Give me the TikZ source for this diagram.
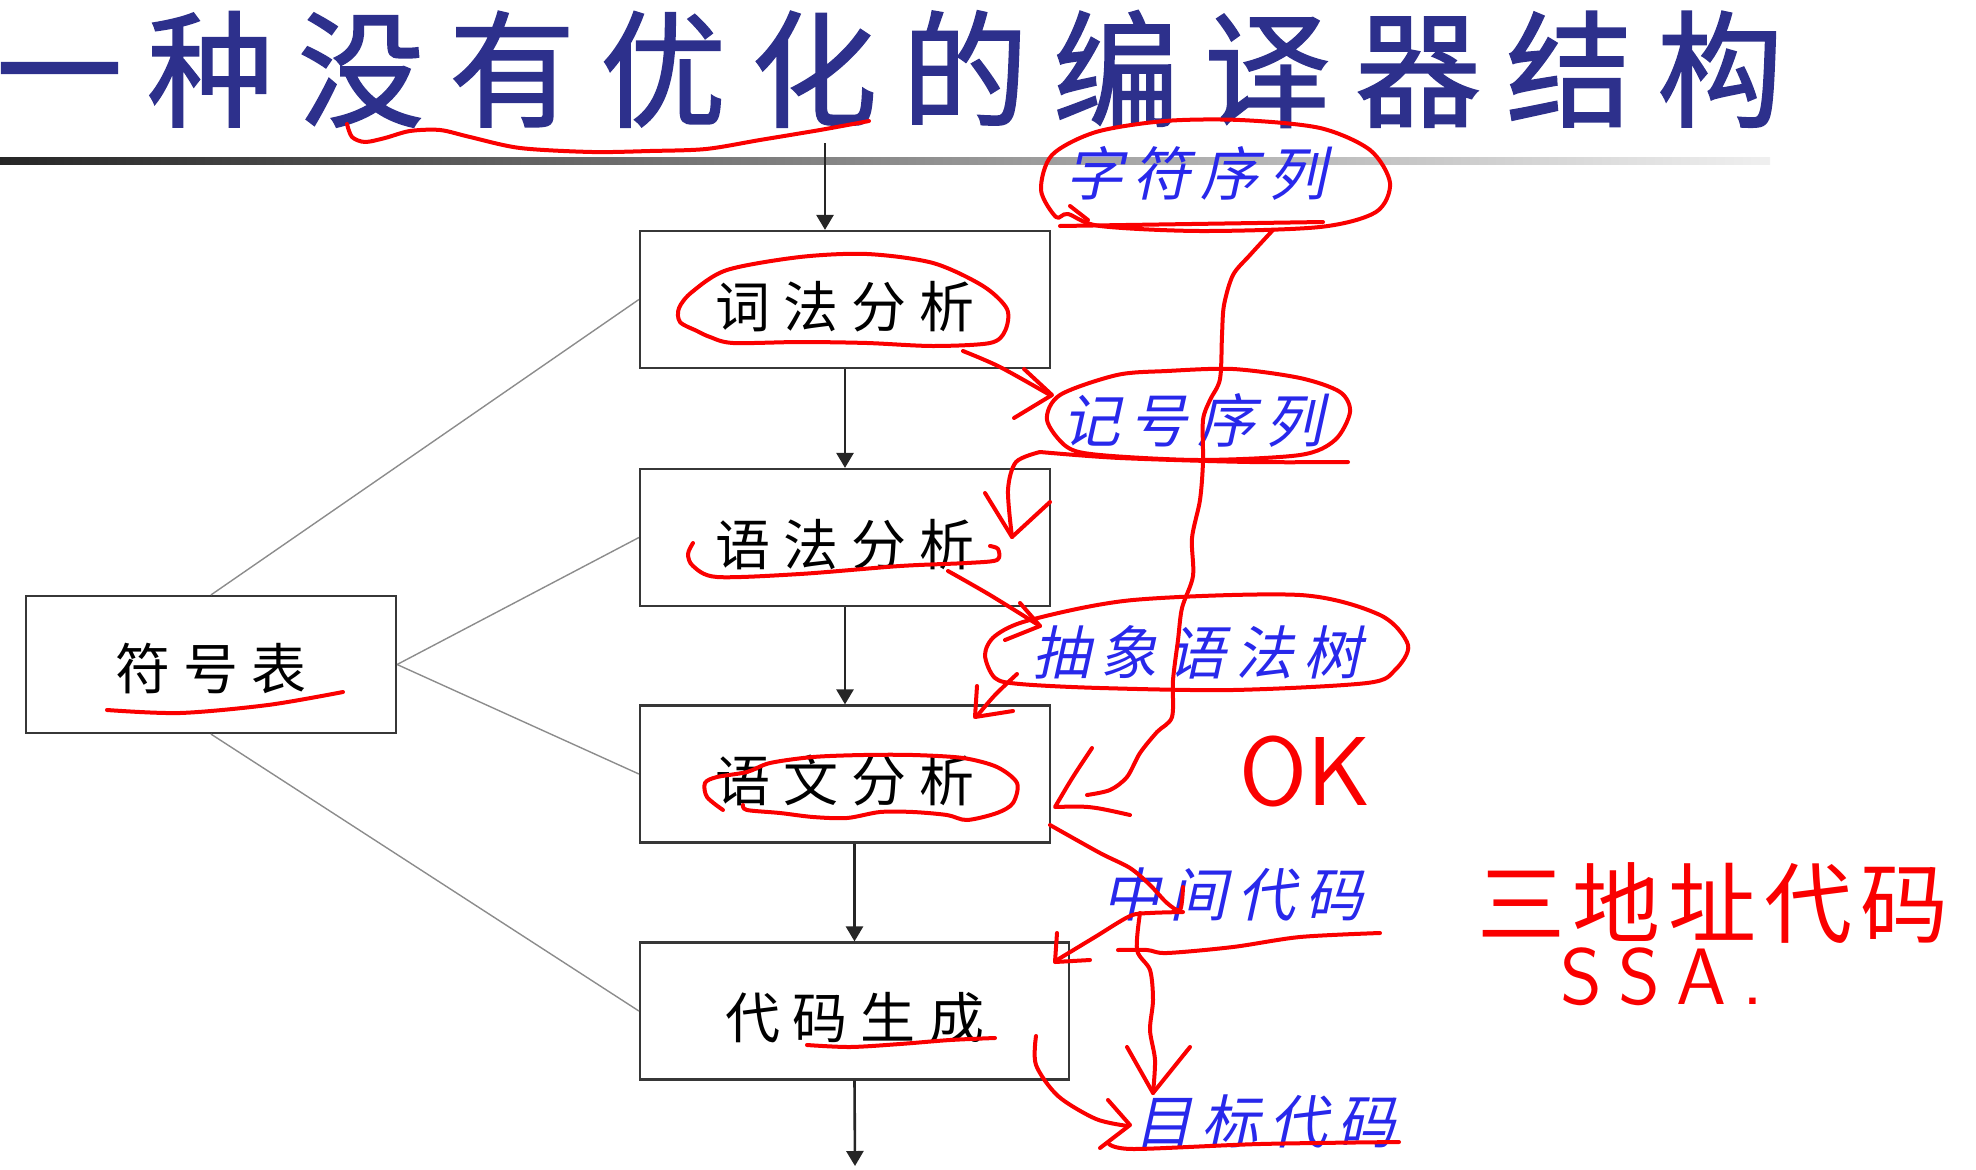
\documentclass[tikz,border=0pt]{standalone}
\usepackage{fontspec}
\usetikzlibrary{arrows.meta}
\newfontfamily\cjk{Noto Sans CJK SC}
\newfontfamily\cjkheavy{Noto Sans CJK SC}[FakeBold=1.4]
\newfontfamily\cjkit{Noto Sans CJK SC}[FakeSlant=0.22]
\definecolor{titleblue}{RGB}{45,48,140}
\definecolor{labelblue}{RGB}{40,40,235}
\definecolor{pencolor}{RGB}{250,0,0}
\definecolor{boxline}{RGB}{55,55,55}

% put a fixed kern between the characters of a word
\ExplSyntaxOn
\NewDocumentCommand\spaced{mm}{\tl_map_inline:nn{#2}{##1\kern#1}\unkern}
\ExplSyntaxOff

\begin{document}
\begin{tikzpicture}[x=1pt,y=-1pt,
  stage/.style={draw=boxline,line width=2.2pt,minimum width=410pt,minimum height=137pt,
    inner sep=0pt,font=\cjk\fontsize{55}{55}\selectfont,text height=55pt,text depth=0pt},
  flow/.style={inner sep=0pt,text=labelblue,font=\cjkit\fontsize{58}{58}\selectfont},
  arr/.style={draw=black!85,line width=2.6pt,-{Triangle[length=15pt,width=17pt]}},
  link/.style={draw=black!45,line width=1.4pt},
  pen/.style={draw=pencolor,line width=4pt,line cap=round,line join=round},
  hand/.style={inner sep=0pt,text=pencolor}]

\useasboundingbox (0,0) rectangle (1976,1170);

% title and rule
\node[anchor=west,inner sep=0pt,text=titleblue,font=\cjkheavy\fontsize{126}{126}\selectfont]
  (title) at (-4,69) {\spaced{25pt}{一种没有优化的编译器结构}};
\shade[left color=black!85,right color=black!6] (0,157) rectangle (1770,164);

% compiler stages
\node[stage] (b1) at (845,299.5) {\spaced{13pt}{词法分析}};
\node[stage] (b2) at (845,537.5) {\spaced{13pt}{语法分析}};
\node[stage] (b3) at (845,774) {\spaced{13pt}{语文分析}};
\node[stage,minimum width=429pt] (b4) at (854.5,1011) {\spaced{13pt}{代码生成}};
\node[stage,minimum width=370pt,text height=50pt] (sym) at (211,664.5) {\spaced{13pt}{符号表}};

\coordinate (in) at (825,143);
\coordinate (out) at (855,1166);
\draw[arr] (in) -- (in |- b1.north);
\draw[arr] (b1.south) -- (b2.north);
\draw[arr] (b2.south) -- (b3.north);
\draw[arr] (b3.south -| b4.north) -- (b4.north);
\draw[arr] (b4.south) -- (out);

\draw[link] (sym.north) -- (b1.west);
\draw[link] (sym.east) -- (b2.west);
\draw[link] (sym.east) -- (b3.west);
\draw[link] (sym.south) -- (b4.west);

% intermediate representations
\node[flow] (f1) at (1196,173) {\spaced{10pt}{字符序列}};
\node[flow] (f2) at (1193,420) {\spaced{10pt}{记号序列}};
\node[flow] (f3) at (1197,652) {\spaced{10pt}{抽象语法树}};
\node[flow] (f4) at (1233,895) {\spaced{10pt}{中间代码}};
\node[flow] (f5) at (1265,1122) {\spaced{10pt}{目标代码}};

% pen notes
\node[hand,font=\sffamily\fontsize{98}{98}\selectfont] (ok) at (1305,771) {OK};
\node[hand,font=\cjk\fontsize{88}{88}\selectfont] (tac) at (1713,903) {\spaced{8pt}{三地址代码}};
\node[hand,font=\sffamily\fontsize{80}{80}\selectfont] (ssa) at (1662,977) {\spaced{16pt}{SSA.}};

% title underline
\draw[pen] plot[smooth] coordinates {(347,124) (352,137) (365,142) (385,138) (410,131) (440,130)
  (470,137) (520,148) (592,152) (650,151) (706,149) (760,140) (820,130) (869,121)};

% loop around the character stream and its long arrow to the semantic stage
\draw[pen] plot[smooth cycle] coordinates {(1056,217) (1041,190) (1052,155) (1096,132) (1165,121)
  (1240,120) (1320,128) (1370,150) (1390,183) (1376,212) (1320,227) (1200,231) (1100,226) (1068,214)};
\draw[pen] (1060,226) -- (1323,222);
\draw[pen] (1070,206) -- (1088,220);
\draw[pen] plot[smooth] coordinates {(1273,230) (1250,255) (1233,275) (1224,305) (1222,335)
  (1220,379) (1210,400) (1203,420) (1203,462) (1200,500) (1192,538) (1193,576) (1182,608)
  (1178,640) (1173,680) (1172,717) (1157,732) (1140,753) (1127,777) (1110,790) (1087,795)};
\draw[pen] (1092,748) .. controls (1072,778) .. (1055,807) .. controls (1090,806) .. (1130,815);

% lexical stage
\draw[pen] plot[smooth cycle] coordinates {(697,331) (680,322) (679,308) (692,292) (727,270)
  (800,257) (867,254) (933,263) (983,286) (1007,309) (1005,331) (990,343) (933,346) (867,343)
  (800,342) (733,343) (710,337)};
\draw[pen] plot[smooth] coordinates {(963,351) (1000,367) (1050,395)};
\draw[pen] (1024,369) -- (1052,395) -- (1014,418);

% token stream
\draw[pen] plot[smooth cycle] coordinates {(1067,447) (1047,420) (1060,395) (1117,375) (1167,371)
  (1233,369) (1300,378) (1340,392) (1350,412) (1335,440) (1300,455) (1200,460) (1100,455)};
\draw[pen] plot[smooth] coordinates {(1040,452) (1120,458) (1250,462) (1348,462)};
\draw[pen] plot[smooth] coordinates {(1040,452) (1016,462) (1008,490) (1012,537)};
\draw[pen] (985,493) -- (1012,537) -- (1050,502);

% syntax stage
\draw[pen] plot[smooth] coordinates {(693,543) (688,554) (693,566) (717,577) (800,574) (900,566)
  (967,563) (997,560) (998,549) (990,546)};
\draw[pen] plot[smooth] coordinates {(948,571) (990,595) (1040,626)};
\draw[pen] (1020,603) -- (1040,626) -- (1005,640);

% abstract syntax tree
\draw[pen] plot[smooth cycle] coordinates {(995,678) (985,655) (995,636) (1030,620) (1133,600)
  (1300,595) (1380,615) (1408,645) (1395,670) (1367,683) (1233,690) (1100,688) (1020,684)};
\draw[pen] plot[smooth] coordinates {(1017,674) (995,695) (977,716)};
\draw[pen] (977,686) -- (975,717) -- (1013,711);

% semantic stage
\draw[pen] plot[smooth] coordinates {(723,810) (707,797) (705,783) (717,777) (747,772) (770,763)
  (813,757) (863,755) (913,755) (963,758) (997,767) (1017,783) (1013,803) (997,813) (967,820)
  (947,815) (913,812) (880,812) (847,818) (813,817) (780,813) (747,810) (743,805)};

% intermediate code
\draw[pen] plot[smooth] coordinates {(1050,825) (1100,853) (1130,868) (1150,885) (1167,903)
  (1180,910) (1183,887)};
\draw[pen] plot[smooth] coordinates {(1183,912) (1150,913) (1130,916) (1095,937) (1057,960)};
\draw[pen] (1057,933) -- (1055,962) -- (1090,960);
\draw[pen] plot[smooth] coordinates {(1140,913) (1137,950) (1150,970) (1153,1000) (1150,1030)
  (1155,1060) (1153,1093)};
\draw[pen] (1127,1047) -- (1153,1093) -- (1190,1047);
\draw[pen] plot[smooth] coordinates {(1118,950) (1147,950) (1167,953) (1233,947) (1300,937) (1380,933)};

% code generation and target code
\draw[pen] plot[smooth] coordinates {(807,1045) (850,1047) (900,1044) (950,1040) (995,1038)};
\draw[pen] plot[smooth] coordinates {(1036,1036) (1036,1065) (1058,1096) (1096,1119) (1128,1126)};
\draw[pen] (1108,1100) -- (1130,1125) -- (1100,1148);
\draw[pen] plot[smooth] coordinates {(1109,1144) (1134,1149) (1260,1144) (1399,1142)};

% symbol table
\draw[pen] plot[smooth] coordinates {(107,710) (180,713) (268,705) (343,692)};
\end{tikzpicture}
\end{document}
